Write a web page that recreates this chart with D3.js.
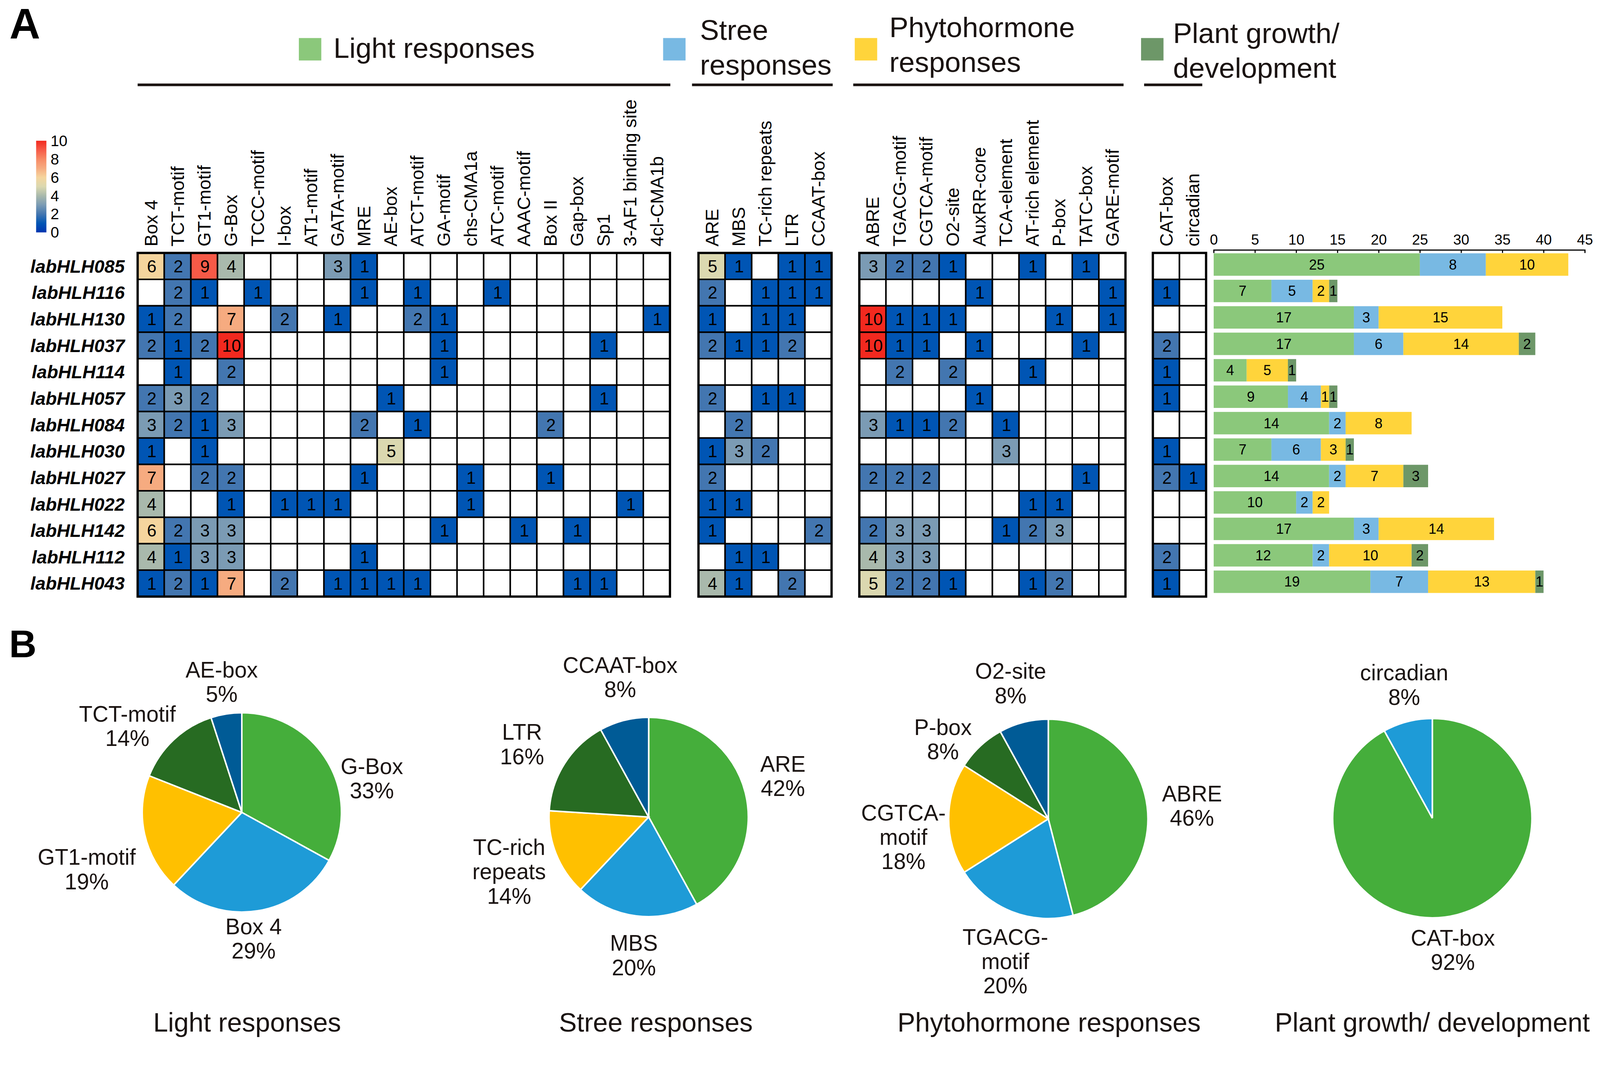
<!DOCTYPE html>
<html>
<head>
<meta charset="utf-8">
<script src="https://cdn.jsdelivr.net/npm/d3@7"></script>
<style>
  html, body { margin: 0; padding: 0; width: 100%; height: 100%; overflow: hidden; background: #fff; }
  svg { display: block; }
  text { font-family: "Liberation Sans", Arial, sans-serif; fill: #1a1311; }
</style>
</head>
<body>
<svg id="chart" width="100%" height="100%" viewBox="0 0 4208 2746" preserveAspectRatio="xMidYMin meet"></svg>
<script>
// ---------- data ----------
const genes = ["labHLH085", "labHLH116", "labHLH130", "labHLH037", "labHLH114", "labHLH057", "labHLH084",
    "labHLH030", "labHLH027", "labHLH022", "labHLH142", "labHLH112", "labHLH043"]

const lightMotifs = ["Box 4", "TCT-motif", "GT1-motif", "G-Box", "TCCC-motif", "I-box", "AT1-motif", "GATA-motif",
    "MRE", "AE-box", "ATCT-motif", "GA-motif", "chs-CMA1a", "ATC-motif", "AAAC-motif", "Box II", "Gap-box", "Sp1",
    "3-AF1 binding site", "4cl-CMA1b"]
const stressMotifs = ["ARE", "MBS", "TC-rich repeats", "LTR", "CCAAT-box"]
const phytoMotifs = ["ABRE", "TGACG-motif", "CGTCA-motif", "O2-site", "AuxRR-core", "TCA-element",
    "AT-rich element", "P-box", "TATC-box", "GARE-motif"]
const growthMotifs = ["CAT-box", "circadian"]

// counts per gene (rows) and motif (columns), 0 = not present
const lightCounts = [
    [6, 2, 9, 4, 0, 0, 0, 3, 1, 0, 0, 0, 0, 0, 0, 0, 0, 0, 0, 0],
    [0, 2, 1, 0, 1, 0, 0, 0, 1, 0, 1, 0, 0, 1, 0, 0, 0, 0, 0, 0],
    [1, 2, 0, 7, 0, 2, 0, 1, 0, 0, 2, 1, 0, 0, 0, 0, 0, 0, 0, 1],
    [2, 1, 2, 10, 0, 0, 0, 0, 0, 0, 0, 1, 0, 0, 0, 0, 0, 1, 0, 0],
    [0, 1, 0, 2, 0, 0, 0, 0, 0, 0, 0, 1, 0, 0, 0, 0, 0, 0, 0, 0],
    [2, 3, 2, 0, 0, 0, 0, 0, 0, 1, 0, 0, 0, 0, 0, 0, 0, 1, 0, 0],
    [3, 2, 1, 3, 0, 0, 0, 0, 2, 0, 1, 0, 0, 0, 0, 2, 0, 0, 0, 0],
    [1, 0, 1, 0, 0, 0, 0, 0, 0, 5, 0, 0, 0, 0, 0, 0, 0, 0, 0, 0],
    [7, 0, 2, 2, 0, 0, 0, 0, 1, 0, 0, 0, 1, 0, 0, 1, 0, 0, 0, 0],
    [4, 0, 0, 1, 0, 1, 1, 1, 0, 0, 0, 0, 1, 0, 0, 0, 0, 0, 1, 0],
    [6, 2, 3, 3, 0, 0, 0, 0, 0, 0, 0, 1, 0, 0, 1, 0, 1, 0, 0, 0],
    [4, 1, 3, 3, 0, 0, 0, 0, 1, 0, 0, 0, 0, 0, 0, 0, 0, 0, 0, 0],
    [1, 2, 1, 7, 0, 2, 0, 1, 1, 1, 1, 0, 0, 0, 0, 0, 1, 1, 0, 0]
]
const stressCounts = [
    [5, 1, 0, 1, 1],
    [2, 0, 1, 1, 1],
    [1, 0, 1, 1, 0],
    [2, 1, 1, 2, 0],
    [0, 0, 0, 0, 0],
    [2, 0, 1, 1, 0],
    [0, 2, 0, 0, 0],
    [1, 3, 2, 0, 0],
    [2, 0, 0, 0, 0],
    [1, 1, 0, 0, 0],
    [1, 0, 0, 0, 2],
    [0, 1, 1, 0, 0],
    [4, 1, 0, 2, 0]
]
const phytoCounts = [
    [3, 2, 2, 1, 0, 0, 1, 0, 1, 0],
    [0, 0, 0, 0, 1, 0, 0, 0, 0, 1],
    [10, 1, 1, 1, 0, 0, 0, 1, 0, 1],
    [10, 1, 1, 0, 1, 0, 0, 0, 1, 0],
    [0, 2, 0, 2, 0, 0, 1, 0, 0, 0],
    [0, 0, 0, 0, 1, 0, 0, 0, 0, 0],
    [3, 1, 1, 2, 0, 1, 0, 0, 0, 0],
    [0, 0, 0, 0, 0, 3, 0, 0, 0, 0],
    [2, 2, 2, 0, 0, 0, 0, 0, 1, 0],
    [0, 0, 0, 0, 0, 0, 1, 1, 0, 0],
    [2, 3, 3, 0, 0, 1, 2, 3, 0, 0],
    [4, 3, 3, 0, 0, 0, 0, 0, 0, 0],
    [5, 2, 2, 1, 0, 0, 1, 2, 0, 0]
]
const growthCounts = [
    [0, 0], [1, 0], [0, 0], [2, 0], [1, 0], [1, 0], [0, 0], [1, 0], [2, 1], [0, 0], [0, 0], [2, 0], [1, 0]
]

// stacked bar totals per gene
const barLight = [25, 7, 17, 17, 4, 9, 14, 7, 14, 10, 17, 12, 19]
const barStress = [8, 5, 3, 6, 0, 4, 2, 6, 2, 2, 3, 2, 7]
const barPhyto = [10, 2, 15, 14, 5, 1, 8, 3, 7, 2, 14, 10, 13]
const barGrowth = [0, 1, 0, 2, 1, 1, 0, 1, 3, 0, 0, 2, 1]
const barTicks = [0, 5, 10, 15, 20, 25, 30, 35, 40, 45]

const groupNames = ["Light responses", "Stree responses", "Phytohormone responses", "Plant growth/ development"]

// pie percentages
const pieLightLabels = ["G-Box", "Box 4", "GT1-motif", "TCT-motif", "AE-box"]
const pieLightValues = [33, 29, 19, 14, 5]
const pieStressLabels = ["ARE", "MBS", "TC-rich repeats", "LTR", "CCAAT-box"]
const pieStressValues = [42, 20, 14, 16, 8]
const piePhytoLabels = ["ABRE", "TGACG-motif", "CGTCA-motif", "P-box", "O2-site"]
const piePhytoValues = [46, 20, 18, 8, 8]
const pieGrowthLabels = ["CAT-box", "circadian"]
const pieGrowthValues = [92, 8]

const colorbarTicks = [0, 2, 4, 6, 8, 10]

// ---------- styles ----------
const FONT_TXT = "#1a1311"
const groupColors = ["#8bc87b", "#78b9e3", "#ffd43b", "#6d9768"]
const pieColors = ["#45ae3b", "#1e9bd7", "#ffc000", "#276b22", "#005b96"]

const heat = d3.scaleLinear()
    .domain([0, 1, 2, 3, 4, 5, 6, 7, 8, 9, 10])
    .range(["#0034b0", "#0055b4", "#4376b0", "#7b9bb4", "#a9b9ac", "#dbd8b0", "#f5d59e", "#f6ab80", "#f78a65", "#f65a47", "#f2291f"])

const svg = d3.select("#chart")

// panel letters
svg.append("text").attr("x", 25).attr("y", 101).attr("font-size", 112).attr("font-weight", "bold").style("fill", "#000").text("A")
svg.append("text").attr("x", 24).attr("y", 1728).attr("font-size", 100).attr("font-weight", "bold").style("fill", "#000").text("B")

// ---------- heatmap ----------
const cell = 70
const rowY = d3.scaleBand().domain(genes).range([665, 665 + 69.5 * genes.length])

const blocks = [
    { motifs: lightMotifs, counts: lightCounts, x0: 362 },
    { motifs: stressMotifs, counts: stressCounts, x0: 1837 },
    { motifs: phytoMotifs, counts: phytoCounts, x0: 2260 },
    { motifs: growthMotifs, counts: growthCounts, x0: 3032 }
]

blocks.forEach(b => {
    const colX = d3.scaleBand().domain(b.motifs).range([b.x0, b.x0 + cell * b.motifs.length])
    const g = svg.append("g")
    const cells = []
    genes.forEach((gene, i) => {
        b.motifs.forEach((m, j) => cells.push({ gene: gene, motif: m, v: b.counts[i][j] }))
    })
    g.selectAll("rect.cell").data(cells).join("rect")
        .attr("class", "cell")
        .attr("x", d => colX(d.motif))
        .attr("y", d => rowY(d.gene))
        .attr("width", colX.bandwidth())
        .attr("height", rowY.bandwidth())
        .attr("fill", d => d.v > 0 ? heat(d.v) : "#fff")
        .attr("stroke", "#000")
        .attr("stroke-width", 4)
    g.selectAll("text.val").data(cells.filter(d => d.v > 0)).join("text")
        .attr("class", "val")
        .attr("x", d => colX(d.motif) + colX.bandwidth() / 2 + 2)
        .attr("y", d => rowY(d.gene) + rowY.bandwidth() / 2 + 16)
        .attr("text-anchor", "middle")
        .attr("font-size", 45)
        .style("fill", "#000")
        .text(d => d.v)
    g.append("rect")
        .attr("x", colX.range()[0]).attr("y", rowY.range()[0])
        .attr("width", colX.range()[1] - colX.range()[0])
        .attr("height", rowY.range()[1] - rowY.range()[0])
        .attr("fill", "none").attr("stroke", "#000").attr("stroke-width", 6)
    g.selectAll("text.col").data(b.motifs).join("text")
        .attr("class", "col")
        .attr("transform", d => "translate(" + (colX(d) + colX.bandwidth() / 2 + 17) + ",648) rotate(-90)")
        .attr("font-size", 48)
        .style("fill", "#000")
        .text(d => d)
})

// row labels
svg.selectAll("text.gene").data(genes).join("text")
    .attr("class", "gene")
    .attr("x", 328)
    .attr("y", d => rowY(d) + rowY.bandwidth() / 2 + 17)
    .attr("text-anchor", "end")
    .attr("font-size", 48)
    .attr("font-weight", "bold")
    .attr("font-style", "italic")
    .style("fill", "#000")
    .text(d => d)

// colour bar
const defs = svg.append("defs")
const grad = defs.append("linearGradient").attr("id", "cbar").attr("x1", 0).attr("y1", 1).attr("x2", 0).attr("y2", 0)
d3.range(0, 10.01, 0.5).forEach(v => {
    grad.append("stop").attr("offset", v / 10).attr("stop-color", heat(v))
})
const cbY = d3.scaleLinear().domain([0, 10]).range([611, 370])
svg.append("rect").attr("x", 95).attr("y", cbY(10)).attr("width", 27).attr("height", cbY(0) - cbY(10)).attr("fill", "url(#cbar)")
svg.selectAll("text.cb").data(colorbarTicks).join("text")
    .attr("class", "cb")
    .attr("x", 133)
    .attr("y", d => cbY(d) + 14)
    .attr("font-size", 40)
    .style("fill", "#000")
    .text(d => d)

// ---------- header legend ----------
const headerLines = [[362, 1763], [1820, 2190], [2244, 2955], [3009, 3162]]
headerLines.forEach(l => {
    svg.append("line").attr("x1", l[0]).attr("x2", l[1]).attr("y1", 223).attr("y2", 223)
        .attr("stroke", FONT_TXT).attr("stroke-width", 7)
})
const legendItems = [
    { sq: 786, tx: 877, lines: ["Light responses"], base: 152 },
    { sq: 1744, tx: 1841, lines: ["Stree", "responses"], base: 105 },
    { sq: 2248, tx: 2339, lines: ["Phytohormone", "responses"], base: 98 },
    { sq: 3001, tx: 3085, lines: ["Plant growth/", "development"], base: 113 }
]
legendItems.forEach((d, i) => {
    svg.append("rect").attr("x", d.sq).attr("y", 100).attr("width", 59).attr("height", 59).attr("fill", groupColors[i])
    d.lines.forEach((t, k) => {
        svg.append("text").attr("x", d.tx).attr("y", d.base + k * 91).attr("font-size", 75).text(t)
    })
})

// ---------- stacked bars ----------
const bx = d3.scaleLinear().domain([0, 45]).range([3192, 4168])
svg.append("g")
    .attr("transform", "translate(0,657)")
    .call(d3.axisTop(bx).tickValues(barTicks).tickSizeInner(-8).tickSizeOuter(-8).tickPadding(14))
    .call(g => g.select(".domain").attr("stroke-width", 3))
    .call(g => g.selectAll(".tick line").attr("stroke-width", 3))
    .call(g => g.selectAll(".tick text").attr("font-size", 38).attr("font-family", "Liberation Sans, Arial, sans-serif").style("fill", "#000"))

const barSeries = [barLight, barStress, barPhyto, barGrowth]
const stackRows = genes.map((gene, i) => {
    let acc = 0
    return barSeries.map((s, k) => {
        const seg = { gene: gene, k: k, v: s[i], x0: acc, x1: acc + s[i] }
        acc += s[i]
        return seg
    })
}).flat().filter(d => d.v > 0)

svg.selectAll("rect.bar").data(stackRows).join("rect")
    .attr("class", "bar")
    .attr("x", d => bx(d.x0))
    .attr("y", d => rowY(d.gene) + 1)
    .attr("width", d => bx(d.x1) - bx(d.x0))
    .attr("height", 59)
    .attr("fill", d => groupColors[d.k])
svg.selectAll("text.bar").data(stackRows).join("text")
    .attr("class", "bar")
    .attr("x", d => (bx(d.x0) + bx(d.x1)) / 2)
    .attr("y", d => rowY(d.gene) + 1 + 29.5 + 13)
    .attr("text-anchor", "middle")
    .attr("font-size", 37)
    .style("fill", "#000")
    .text(d => d.v)

// ---------- pies ----------
const pies = [
    {
        labels: pieLightLabels, values: pieLightValues, cx: 636, cy: 2136,
        text: [["G-Box"], ["Box 4"], ["GT1-motif"], ["TCT-motif"], ["AE-box"]],
        pos: [[978, 2014], [667, 2435], [228, 2253], [335, 1876], [583, 1760]], title: 650
    },
    {
        labels: pieStressLabels, values: pieStressValues, cx: 1706, cy: 2148,
        text: [["ARE"], ["MBS"], ["TC-rich", "repeats"], ["LTR"], ["CCAAT-box"]],
        pos: [[2059, 2008], [1667, 2479], [1339, 2227], [1373, 1924], [1631, 1748]], title: 1725
    },
    {
        labels: piePhytoLabels, values: piePhytoValues, cx: 2757, cy: 2153,
        text: [["ABRE"], ["TGACG-", "motif"], ["CGTCA-", "motif"], ["P-box"], ["O2-site"]],
        pos: [[3135, 2086], [2644, 2463], [2376, 2136], [2480, 1911], [2658, 1764]], title: 2759
    },
    {
        labels: pieGrowthLabels, values: pieGrowthValues, cx: 3767, cy: 2151,
        text: [["CAT-box"], ["circadian"]],
        pos: [[3821, 2465], [3693, 1768]], title: 3767
    }
]

const pieGen = d3.pie().sort(null).value(d => d)
const arc = d3.arc().innerRadius(0).outerRadius(262)

pies.forEach((p, pi) => {
    const g = svg.append("g").attr("transform", "translate(" + p.cx + "," + p.cy + ")")
    g.selectAll("path").data(pieGen(p.values)).join("path")
        .attr("d", arc)
        .attr("fill", (d, i) => pieColors[i])
        .attr("stroke", "#fff")
        .attr("stroke-width", 4)
    p.labels.forEach((lab, i) => {
        const lines = p.text[i].concat([p.values[i] + "%"])
        const t = svg.append("text")
            .attr("text-anchor", "middle")
            .attr("font-size", 58)
        lines.forEach((ln, k) => {
            t.append("tspan").attr("x", p.pos[i][0]).attr("y", p.pos[i][1] + 21 + k * 64).text(ln)
        })
    })
    svg.append("text")
        .attr("x", p.title).attr("y", 2712)
        .attr("text-anchor", "middle")
        .attr("font-size", 70)
        .text(groupNames[pi])
})
</script>
</body>
</html>
